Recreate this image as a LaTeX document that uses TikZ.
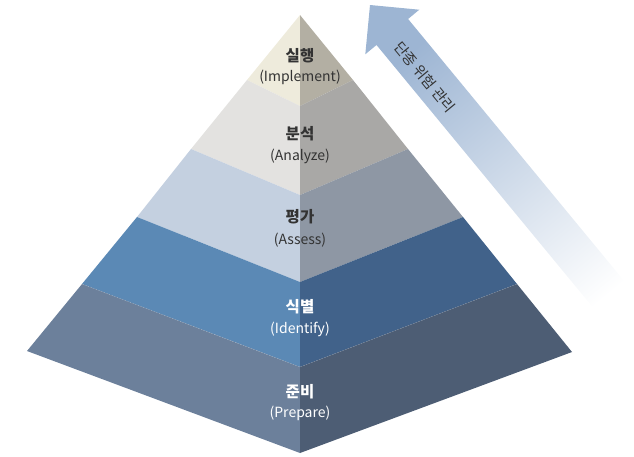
\documentclass[tikz,border=0pt]{standalone}
\usepackage{fontspec}
\setmainfont{Noto Sans CJK KR}
\usepackage{xcolor}
\definecolor{lft1}{HTML}{EEEBDC}
\definecolor{rgt1}{HTML}{B3AFA3}
\definecolor{lft2}{HTML}{E3E2E0}
\definecolor{rgt2}{HTML}{A9A8A6}
\definecolor{lft3}{HTML}{C4D0E0}
\definecolor{rgt3}{HTML}{8E97A4}
\definecolor{lft4}{HTML}{5B89B5}
\definecolor{rgt4}{HTML}{41628A}
\definecolor{lft5}{HTML}{6C809B}
\definecolor{rgt5}{HTML}{4D5D74}
\definecolor{arrowblue}{HTML}{9DB5D3}
\definecolor{darktext}{HTML}{333333}

\begin{document}
\begin{tikzpicture}[
  x=1pt, y=-1pt,
  ttl/.style={inner sep=0pt, font=\fontsize{15.5}{16}\selectfont\bfseries, text=#1},
  sub/.style={inner sep=0pt, font=\fontsize{14}{15}\selectfont, text=#1},
  arrtxt/.style={inner sep=0pt, font=\fontsize{14.5}{15}\selectfont, text=darktext}
]
  \useasboundingbox (0,0) rectangle (634,456);

  % pyramid edges: left, front and right points of each layer boundary
  \coordinate (l0) at (300,15);  \coordinate (c0) at (300,15);  \coordinate (r0) at (300,15);
  \coordinate (l1) at (247,80);  \coordinate (c1) at (300,106); \coordinate (r1) at (353,80);
  \coordinate (l2) at (191,149); \coordinate (c2) at (300,195); \coordinate (r2) at (408,149);
  \coordinate (l3) at (137,217); \coordinate (c3) at (300,282); \coordinate (r3) at (463,217);
  \coordinate (l4) at (82,284);  \coordinate (c4) at (300,367); \coordinate (r4) at (517,284);
  \coordinate (l5) at (27,351);  \coordinate (c5) at (300,453); \coordinate (r5) at (572,352);

  \foreach \i in {1,...,5}{
    \pgfmathtruncatemacro\j{\i-1}
    \fill[lft\i] (l\j) -- (c\j) -- (c\i) -- (l\i) -- cycle;
    \fill[rgt\i] (c\j) -- (r\j) -- (r\i) -- (c\i) -- cycle;
  }
  \draw[white, opacity=0.35, line width=0.4pt, densely dotted] (l4) -- (c4) -- (r4);

  % side arrow
  \shade[top color=arrowblue, bottom color=white, shading angle=39.5]
    (370,5) -- (419.3,9.7) -- (408.1,19) -- (634,292.9) -- (634,357.2)
    -- (376.5,45) -- (365.3,54.3) -- cycle;
  \node[arrtxt, rotate=-50.5] (risk) at (425,77) {단종 위험 관리};

  \node[ttl=darktext] (impl) at (300,56) {실행};
  \node[sub=darktext] (implsub) at (300,77) {(Implement)};
  \node[ttl=darktext] (anal) at (300,134) {분석};
  \node[sub=darktext] (analsub) at (300,156) {(Analyze)};
  \node[ttl=darktext] (asse) at (300,217) {평가};
  \node[sub=darktext] (assesub) at (300,240) {(Assess)};
  \node[ttl=white] (iden) at (300,307) {식별};
  \node[sub=white] (idensub) at (300,329) {(Identify)};
  \node[ttl=white] (prep) at (300,392) {준비};
  \node[sub=white] (prepsub) at (300,413) {(Prepare)};
\end{tikzpicture}
\end{document}
